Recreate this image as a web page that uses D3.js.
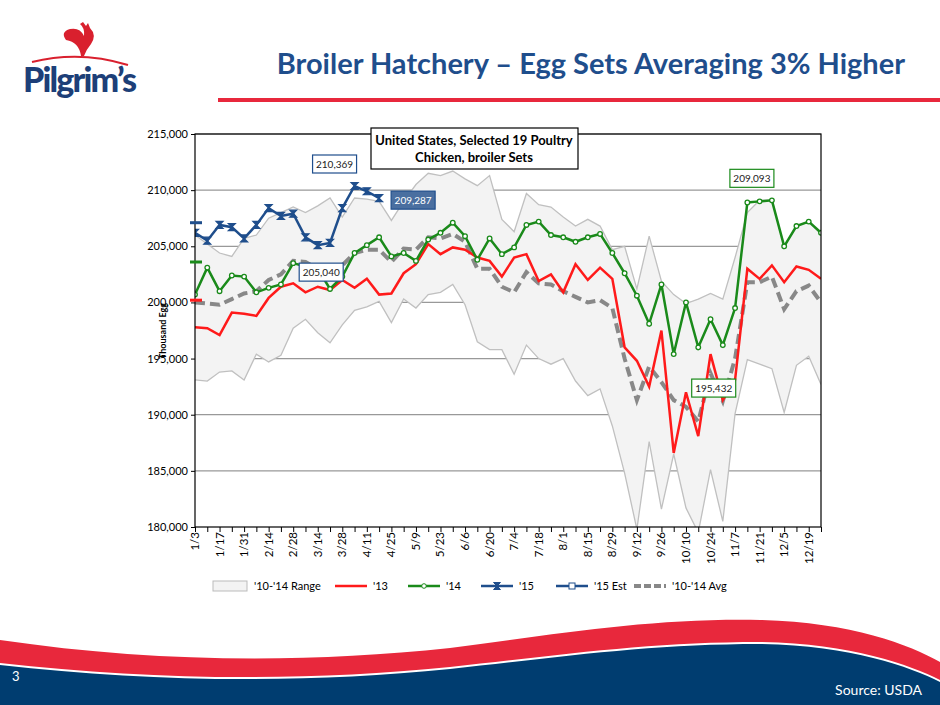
<!DOCTYPE html>
<html>
<head>
<meta charset="UTF-8">
<title>Broiler Hatchery</title>
<script src="https://cdn.jsdelivr.net/npm/d3@7"></script>
<style>
  body { margin: 0; background: #fff; }
  text { font-family: Lato, "Open Sans", sans-serif; }
</style>
</head>
<body>
<script>
// week labels (every week, 1/3 .. 12/26)
const weeks = ["1/3","1/10","1/17","1/24","1/31","2/7","2/14","2/21","2/28","3/7","3/14","3/21","3/28","4/4","4/11","4/18","4/25","5/2","5/9","5/16","5/23","5/30","6/6","6/13","6/20","6/27","7/4","7/11","7/18","7/25","8/1","8/8","8/15","8/22","8/29","9/5","9/12","9/19","9/26","10/3","10/10","10/17","10/24","10/31","11/7","11/14","11/21","11/28","12/5","12/12","12/19","12/26"];

const rangeMax = [206000,205200,204400,204100,205700,206000,207500,208000,208500,208000,208600,209300,207600,209300,209200,209000,207300,209000,210500,211500,211300,211700,211000,210400,211300,207400,206300,209700,208700,208500,207600,206800,207400,206800,204700,205000,201200,205900,201900,200700,199900,200300,200800,200300,204000,208000,209100,209100,205000,206800,207200,206100];
const rangeMin = [193100,193000,193800,193900,193100,195400,194700,195300,197700,198500,197300,196400,198000,199300,199600,200100,198200,200300,199500,200700,200900,201600,199800,196500,195800,195800,193600,196200,195000,194500,195000,193000,191700,192300,189000,184800,179800,187600,181600,186500,181700,179500,185100,180500,190100,194900,194500,194100,190200,194400,195200,192700];
const s13 = [197800,197700,197100,199100,199000,198800,200400,201400,201700,200900,201400,201100,202000,201300,202100,200700,200800,202600,203400,205200,204300,204900,204700,204000,203700,202300,204000,204300,201900,202500,200900,203400,202000,203100,202100,196000,194800,192500,197500,186600,192000,188100,195400,191300,193100,203000,202100,203300,201800,203200,202900,202100];
const s14 = [200700,203100,201000,202400,202300,200900,201300,201600,203500,203200,203000,201200,202300,204400,205100,205800,204100,204400,203700,205600,206200,207100,205900,203800,205700,204300,204900,206900,207200,206000,205800,205400,205800,206100,204400,202600,200600,198100,201600,195400,200000,196000,198500,196200,199500,208900,209000,209093,205000,206800,207200,206200];
const s15 = [206200,205500,206900,206700,205700,206900,208400,207700,207900,205800,205100,205300,208400,210369,209900,209287];
const avg = [200000,199900,199800,200300,200800,201000,202000,202500,203700,203600,203000,203000,203300,204400,204700,204700,203600,204800,204700,205800,205700,206100,205400,203000,203000,201400,200900,202700,201700,201600,201000,200500,200000,200200,199500,195000,191300,194300,192900,191300,190700,189400,193700,191200,195000,201800,201800,202300,199400,201000,201500,200000];
// yearly averages shown as ticks on the y axis
const yearAvgs = [["'15", 207100, "#1f4e8c"], ["'14", 203600, "#1a8a1a"], ["'13", 200200, "#ff1a1a"]];
const yTicks = [180000,185000,190000,195000,200000,205000,210000,215000];
const callouts = [
  {i: 13, s: "b", text: "210,369", dx: -20, dy: -22, style: "w"},
  {i: 15, s: "b", text: "209,287", dx: 34, dy: 2, style: "f"},
  {i: 8,  s: "g", text: "205,040", dx: 28, dy: 9, style: "w"},
  {i: 39, s: "g", text: "195,432", dx: 40, dy: 34, style: "wg"},
  {i: 47, s: "g", text: "209,093", dx: -20, dy: -22, style: "wg"}
];

const W = 940, H = 705;
const svg = d3.select("body").append("svg").attr("width", W).attr("height", H);

// ---- header ----
const logo = svg.append("g");
logo.append("path").attr("d", "M32 62 Q80 50 128 65").attr("fill", "none").attr("stroke", "#d9202e").attr("stroke-width", 2);
logo.append("path").attr("d", "M81 56 Q79 42 66 40 Q60 32 70 29 Q80 27 84 36 Q85 28 80 24 L83 22 L86 26 L88 23 L90 28 Q97 35 91 44 Q86 50 84 56 Z").attr("fill", "#d9202e");
logo.append("text").attr("x", 23).attr("y", 92).attr("font-size", 34).attr("font-weight", 900)
  .attr("fill", "#1d3f78").attr("font-family", "Lato").attr("textLength", 114).text("Pilgrim’s");

svg.append("text").attr("x", 905).attr("y", 74).attr("text-anchor", "end")
  .attr("font-size", 29).attr("font-weight", 700).attr("fill", "#1f4e8c")
  .text("Broiler Hatchery – Egg Sets Averaging 3% Higher");
svg.append("rect").attr("x", 218).attr("y", 98).attr("width", 722).attr("height", 4).attr("fill", "#e8283c");

// ---- chart ----
const x = d3.scaleLinear().domain([0, weeks.length - 1]).range([195, 821]);
const y = d3.scaleLinear().domain([180000, 215000]).range([527, 134]);

const plot = svg.append("g");
svg.append("clipPath").attr("id", "c").append("rect")
  .attr("x", 195).attr("y", 134).attr("width", 626).attr("height", 393);

plot.append("g").selectAll("line").data(yTicks.slice(1)).join("line")
  .attr("x1", 195).attr("x2", 821).attr("y1", y).attr("y2", y)
  .attr("stroke", "#999").attr("stroke-width", 1.2);

const g = plot.append("g").attr("clip-path", "url(#c)");
g.append("path").datum(weeks.map((w, i) => i))
  .attr("d", d3.area().x(i => x(i)).y0(i => y(rangeMin[i])).y1(i => y(rangeMax[i])))
  .attr("fill", "#f3f3f3");
[rangeMax, rangeMin].forEach(arr => g.append("path").datum(arr)
  .attr("d", d3.line().x((d, i) => x(i)).y(d => y(d)))
  .attr("fill", "none").attr("stroke", "#c0c0c0").attr("stroke-width", 1.3));

g.append("path").datum(avg).attr("d", d3.line().x((d, i) => x(i)).y(d => y(d)))
  .attr("fill", "none").attr("stroke", "#888").attr("stroke-width", 4).attr("stroke-dasharray", "10,5");
g.append("path").datum(s13).attr("d", d3.line().x((d, i) => x(i)).y(d => y(d)))
  .attr("fill", "none").attr("stroke", "#ff1a1a").attr("stroke-width", 2.5);
g.append("path").datum(s14).attr("d", d3.line().x((d, i) => x(i)).y(d => y(d)))
  .attr("fill", "none").attr("stroke", "#1a8a1a").attr("stroke-width", 2.5);
g.selectAll(".m14").data(s14).join("circle").attr("cx", (d, i) => x(i)).attr("cy", d => y(d))
  .attr("r", 2.3).attr("fill", "#fff").attr("stroke", "#1a8a1a").attr("stroke-width", 1.3);
g.append("path").datum(s15).attr("d", d3.line().x((d, i) => x(i)).y(d => y(d)))
  .attr("fill", "none").attr("stroke", "#1f4e8c").attr("stroke-width", 2.5);
const bow = "M-3.5,-3.5H3.5L-3.5,3.5H3.5Z";
g.selectAll(".m15").data(s15).join("path").attr("d", bow)
  .attr("transform", (d, i) => `translate(${x(i)},${y(d)})`)
  .attr("fill", "#1f4e8c").attr("stroke", "#1f4e8c").attr("stroke-width", 1.2);

// axes
plot.append("rect").attr("x", 195).attr("y", 134).attr("width", 626).attr("height", 393)
  .attr("fill", "none").attr("stroke", "#000").attr("stroke-width", 1.2);
const ya = plot.append("g").attr("transform", "translate(195,0)")
  .call(d3.axisLeft(y).tickValues(yTicks).tickSize(4).tickFormat(d3.format(",")));
ya.select(".domain").remove();
ya.selectAll("text").attr("font-size", 11).attr("font-family", "Lato").attr("fill", "#000");
const xa = plot.append("g").attr("transform", "translate(0,527)")
  .call(d3.axisBottom(x).tickValues(d3.range(weeks.length)).tickSize(5).tickFormat(""));
xa.select(".domain").remove();
xa.selectAll(".lbl").data(weeks.filter((w, i) => i % 2 === 0)).join("text")
  .attr("transform", (w, j) => `translate(${x(j * 2) + 4},5) rotate(-90)`)
  .attr("text-anchor", "end").attr("font-size", 11.5).attr("fill", "#000").text(w => w);

yearAvgs.forEach(([n, v, c]) => plot.append("rect").attr("x", 190).attr("y", y(v) - 1.5)
  .attr("width", 12).attr("height", 3).attr("fill", c));

svg.append("text").attr("transform", "translate(166,331) rotate(-90)").attr("text-anchor", "middle")
  .attr("font-size", 9).attr("font-weight", 700).text("Thousand Egg");

// chart title box
svg.append("rect").attr("x", 371).attr("y", 128).attr("width", 207).attr("height", 41)
  .attr("fill", "#fff").attr("stroke", "#000").attr("stroke-width", 1.2);
svg.append("text").attr("x", 474).attr("y", 145).attr("text-anchor", "middle").attr("font-size", 13)
  .attr("font-weight", 700).text("United States, Selected 19 Poultry");
svg.append("text").attr("x", 474).attr("y", 162).attr("text-anchor", "middle").attr("font-size", 13)
  .attr("font-weight", 700).text("Chicken, broiler Sets");

// callouts
callouts.forEach(c => {
  const v = (c.s === "b" ? s15 : s14)[c.i];
  const cx = x(c.i) + c.dx, cyy = y(v) + c.dy;
  const col = c.style === "wg" ? "#1a8a1a" : "#1f4e8c";
  svg.append("rect").attr("x", cx - 22).attr("y", cyy - 9).attr("width", 44).attr("height", 18)
    .attr("fill", c.style === "f" ? "#4a6fa0" : "#fff").attr("stroke", col).attr("stroke-width", 1.2);
  svg.append("text").attr("x", cx).attr("y", cyy + 4).attr("text-anchor", "middle").attr("font-size", 10)
    .attr("fill", c.style === "f" ? "#fff" : "#222").text(c.text);
});

// legend
const lg = svg.append("g").attr("transform", "translate(0,586)");
lg.append("rect").attr("x", 213).attr("y", -5).attr("width", 34).attr("height", 10)
  .attr("fill", "#f3f3f3").attr("stroke", "#bbb");
lg.append("text").attr("x", 254).attr("y", 4).attr("font-size", 11).text("'10-'14 Range");
const items = [
  [335, "#ff1a1a", null, "'13", 0],
  [408, "#1a8a1a", "c", "'14", 0],
  [481, "#1f4e8c", "b", "'15", 0],
  [556, "#1f4e8c", "s", "'15 Est", 0],
  [634, "#888", null, "'10-'14 Avg", 1]
];
items.forEach(([x0, col, mk, label, dash]) => {
  lg.append("line").attr("x1", x0).attr("x2", x0 + 32).attr("stroke", col)
    .attr("stroke-width", dash ? 4 : 2.5).attr("stroke-dasharray", dash ? "7,3" : null);
  if (mk === "c") lg.append("circle").attr("cx", x0 + 16).attr("r", 2.3).attr("fill", "#fff").attr("stroke", col);
  if (mk === "b") lg.append("path").attr("d", bow).attr("transform", `translate(${x0 + 16},0)`).attr("fill", col).attr("stroke", col);
  if (mk === "s") lg.append("rect").attr("x", x0 + 13).attr("y", -3).attr("width", 6).attr("height", 6).attr("fill", "#fff").attr("stroke", col);
  lg.append("text").attr("x", x0 + 38).attr("y", 4).attr("font-size", 11).text(label);
});

// footer wave
svg.append("path").attr("d", "M0 640 C150 662 300 664 450 648 C560 634 650 618 760 620 C850 622 910 645 940 662 L940 705 L0 705 Z").attr("fill", "#e8283c");
svg.append("path").attr("d", "M0 663 C150 680 300 682 450 667 C560 655 650 642 760 642 C850 643 910 665 940 680 L940 705 L0 705 Z").attr("fill", "#fff");
svg.append("path").attr("d", "M0 665 C150 682 300 684 450 669 C560 657 650 644 760 644 C850 645 910 667 940 682 L940 705 L0 705 Z").attr("fill", "#003d70");
svg.append("text").attr("x", 12).attr("y", 681).attr("font-size", 13).attr("fill", "#fff").text("3");
svg.append("text").attr("x", 922).attr("y", 695).attr("text-anchor", "end").attr("font-size", 14).attr("fill", "#fff").text("Source:  USDA");
</script>
</body>
</html>
